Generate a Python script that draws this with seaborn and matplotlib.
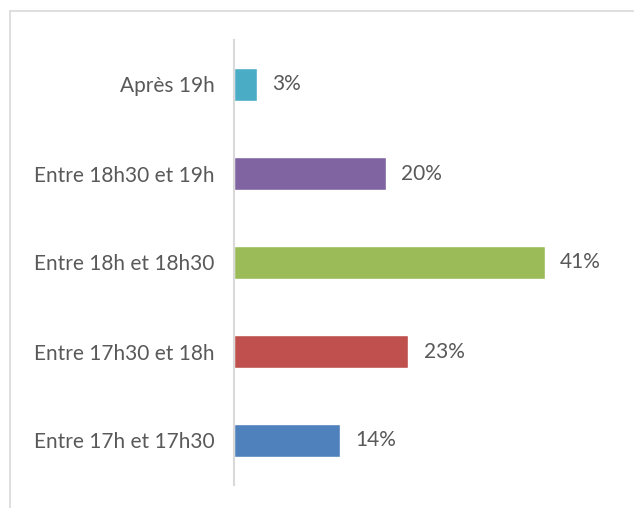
import matplotlib
matplotlib.use("Agg")
import matplotlib.pyplot as plt
import seaborn as sns
import pandas as pd
from matplotlib.lines import Line2D

categories = ["Après 19h", "Entre 18h30 et 19h", "Entre 18h et 18h30",
              "Entre 17h30 et 18h", "Entre 17h et 17h30"]
values = [3, 20, 41, 23, 14]
labels = ["3%", "20%", "41%", "23%", "14%"]
colors = ["#4BACC6", "#8064A2", "#9BBB59", "#C0504D", "#4F81BD"]

df = pd.DataFrame({"cat": categories, "val": values})

sns.set_style("white")
plt.rcParams['font.family'] = ['Lato', 'DejaVu Sans']
text_col = "#595959"

fig = plt.figure(figsize=(6.34, 5.08), dpi=100)
ax = fig.add_axes([234/634, 1-485/508, (620-234)/634, 445/508])

sns.barplot(data=df, x="val", y="cat", hue="cat", palette=colors,
            orient="h", width=0.36, legend=False, ax=ax, saturation=1)

for i, (v, lab) in enumerate(zip(values, labels)):
    ax.annotate(lab, (v, i), xytext=(11, 0), textcoords="offset points",
                va="center", ha="left", fontsize=15, color=text_col)

ax.set_xlim(0, 50.9)
ax.set_ylim(4.5, -0.5)
ax.set_xlabel("")
ax.set_ylabel("")
ax.set_xticks([])
ax.tick_params(axis="y", length=0, pad=14, labelsize=15, labelcolor=text_col)
for s in ["top", "right", "bottom"]:
    ax.spines[s].set_visible(False)
ax.spines["left"].set_color("#D9D9D9")
ax.spines["left"].set_linewidth(1.5)

# outer chart frame
fig.add_artist(Line2D([10/634, 10/634], [0, 1-11/508], transform=fig.transFigure,
                      color="#D9D9D9", lw=1.2))
fig.add_artist(Line2D([10/634, 1], [1-11/508, 1-11/508], transform=fig.transFigure,
                      color="#D9D9D9", lw=1.2))

fig.savefig("out.png", dpi=100)
